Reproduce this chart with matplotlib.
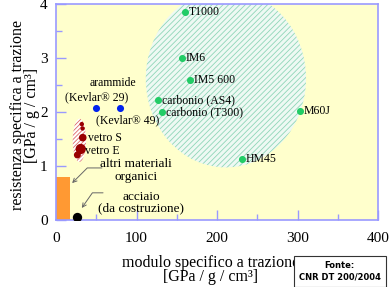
import numpy as np
import matplotlib as mpl
mpl.use('Agg')
import matplotlib.pyplot as plt
from matplotlib.patches import Ellipse, Rectangle

plt.rcParams['font.family'] = ['Liberation Serif', 'DejaVu Serif']
plt.rcParams['hatch.linewidth'] = 0.6

# carbon fibres
carb_names = ['T1000', 'IM6', 'IM5 600', 'carbonio (AS4)', 'carbonio (T300)', 'M60J', 'HM45']
carb_mod = [160, 156, 166, 127, 131, 303, 231]
carb_res = [3.86, 3.00, 2.60, 2.22, 2.00, 2.02, 1.13]

# aramid
kev_mod = [50, 80]
kev_res = [2.08, 2.08]

# glass
glass_mod = [33.2, 30.7, 26.5, 32, 33]
glass_res = [1.53, 1.32, 1.21, 1.78, 1.70]
glass_size = [30, 55, 25, 10, 10]

# steel
steel_mod = [26]
steel_res = [0.06]

# other organic materials (block)
org_mod_max = 17.8
org_res_max = 0.81

frame = '#9999ff'

fig = plt.figure(figsize=(3.89, 2.87), dpi=100)
ax = fig.add_axes([0.144, 0.232, 0.828, 0.754])
ax.set_facecolor('#ffffcc')

ell = Ellipse((211, 2.62), 199, 3.28, facecolor='#eef9f3', edgecolor='#8fd6b8',
              hatch='//////', linewidth=0, zorder=1)
ax.add_patch(ell)
gell = Ellipse((29, 1.48), 16.5, 0.80, facecolor='white', edgecolor='#dd6666',
               hatch='////////', linewidth=0, zorder=1)
ax.add_patch(gell)
ax.add_patch(Rectangle((0, 0), org_mod_max, org_res_max, facecolor='#ff9933',
                       edgecolor='none', zorder=2))

ax.scatter(carb_mod, carb_res, s=26, c='#22cc66', zorder=3, linewidths=0)
ax.scatter(kev_mod, kev_res, s=26, c='#0022ee', zorder=3, linewidths=0)
ax.scatter(glass_mod, glass_res, s=glass_size, c='#990000', zorder=3, linewidths=0)
ax.scatter(steel_mod, steel_res, s=45, c='black', zorder=3, linewidths=0)

fs = 8.5
for n, xm, yr in zip(carb_names, carb_mod, carb_res):
    ax.text(xm + 5, yr, n, fontsize=fs, va='center', ha='left', zorder=4)

ax.text(70.8, 2.54, 'arammide', fontsize=fs, ha='center', va='center')
ax.text(51, 2.27, '(Kevlar\u00ae 29)', fontsize=fs, ha='center', va='center')
ax.text(89.4, 1.85, '(Kevlar\u00ae 49)', fontsize=fs, ha='center', va='center')
ax.text(40, 1.52, 'vetro S', fontsize=fs, ha='left', va='center')
ax.text(36, 1.28, 'vetro E', fontsize=fs, ha='left', va='center')

afs = 9.5
arrow = dict(arrowstyle='->', color='#666666', lw=0.7, shrinkA=0, shrinkB=0,
             mutation_scale=7)
ax.text(99.4, 0.92, 'altri materiali\norganici', fontsize=afs, ha='center',
        va='center', linespacing=1.05)
ax.annotate('', xy=(20, 0.69), xytext=(57, 0.97),
            arrowprops=dict(arrow, connectionstyle='angle,angleA=0,angleB=45,rad=0'))
ax.text(105.6, 0.33, 'acciaio\n(da costruzione)', fontsize=afs, ha='center',
        va='center', linespacing=1.0)
ax.annotate('', xy=(32, 0.23), xytext=(58.4, 0.51),
            arrowprops=dict(arrow, connectionstyle='angle,angleA=0,angleB=55,rad=0'))

ax.set_xlim(0, 400)
ax.set_ylim(0, 4)
ax.set_xticks([0, 100, 200, 300, 400])
ax.set_xticks([50, 150, 250, 350], minor=True)
ax.set_yticks([0, 1, 2, 3, 4])
ax.set_yticks([0.5, 1.5, 2.5, 3.5], minor=True)
ax.tick_params(which='major', direction='in', length=7, width=1, color=frame,
               labelsize=11)
ax.tick_params(axis='y', which='major', pad=6)
ax.tick_params(axis='x', which='major', pad=8)
ax.tick_params(which='minor', direction='in', length=4, width=1, color=frame)
for s in ax.spines.values():
    s.set_color(frame)
    s.set_linewidth(1.2)

fig.text(0.064, 0.599, 'resistenza specifica a trazione\n[GPa / g / cm\u00b3]', rotation=90,
         fontsize=11.5, ha='center', va='center', linespacing=0.85)
fig.text(0.542, 0.058, 'modulo specifico a trazione\n[GPa / g / cm\u00b3]',
         fontsize=11.5, ha='center', va='center', linespacing=0.85)

fig.text(0.873, 0.054, 'Fonte:\nCNR DT 200/2004', fontsize=6, fontweight='bold',
         family='DejaVu Sans', ha='center', va='center', linespacing=1.3,
         bbox=dict(boxstyle='square,pad=0.6', facecolor='white', edgecolor='#333333', lw=0.8))

plt.savefig('out.png', dpi=100)
plt.close()
